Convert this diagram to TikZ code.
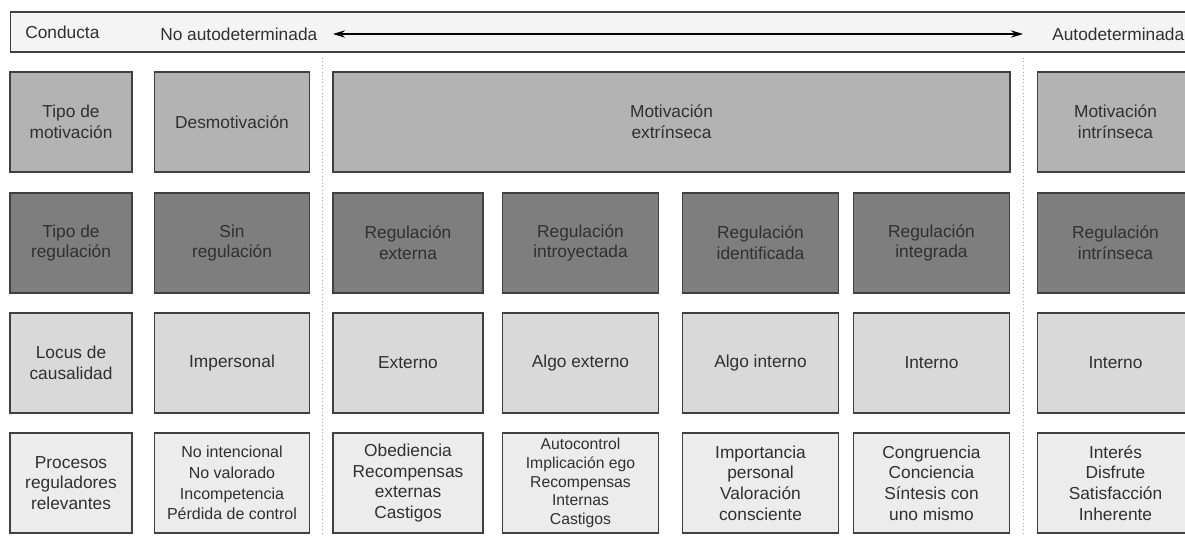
\documentclass[tikz,border=0pt]{standalone}
\usepackage{fontspec}
\setmainfont{Liberation Sans}
\usetikzlibrary{arrows.meta}
\definecolor{txt}{HTML}{303030}
\definecolor{edge}{HTML}{404040}
\definecolor{fa}{HTML}{B3B3B3}
\definecolor{fb}{HTML}{7E7E7E}
\definecolor{fc}{HTML}{D9D9D9}
\definecolor{fd}{HTML}{ECECEC}
\definecolor{fbar}{HTML}{F4F4F4}
\tikzset{
  cell/.style={draw=edge, line width=0.9pt, text=txt, align=center, minimum height=75pt,
    inner sep=1pt, font=\fontsize{13}{15.5}\selectfont},
  rowa/.style={cell, fill=fa},
  rowb/.style={cell, fill=fb},
  rowc/.style={cell, fill=fc},
  rowd/.style={cell, fill=fd},
  wfirst/.style={minimum width=91.5pt},
  wcol/.style={minimum width=116.5pt},
  wnarrow/.style={minimum width=112.5pt},
  lbl/.style={text=txt, inner sep=0pt, anchor=west, font=\fontsize{13}{15}\selectfont},
  sep/.style={draw=gray!70, line width=0.6pt, dotted},
  axis/.style={draw=black, line width=0.9pt, {Stealth[length=9pt,width=5.5pt]}-{Stealth[length=9pt,width=5.5pt]}}
}
\begin{document}
\begin{tikzpicture}[x=0.75pt, y=-0.75pt]
\useasboundingbox (0,0) rectangle (1185,536);
\clip (0,0) rectangle (1185,536);
% top bar
\node[draw=edge, line width=0.9pt, fill=fbar, minimum width=892pt, minimum height=30pt, anchor=west, inner sep=0pt] (bar) at (10,32) {};
\node[lbl] (conducta) at (25,32) {Conducta};
\node[lbl] (noauto) at (160,34) {No autodeterminada};
\node[lbl] (auto) at (1052,34) {Autodeterminada};
\coordinate (al) at (333,34);
\coordinate (ar) at (1023,34);
\draw[axis] (al) -- (ar);
% separators
\coordinate (s1t) at (322,58); \coordinate (s1b) at (322,536);
\coordinate (s2t) at (1023,58); \coordinate (s2b) at (1023,536);
\draw[sep] (s1t) -- (s1b);
\draw[sep] (s2t) -- (s2b);
% row 1
\node[rowa, wfirst] (a1) at (71,122) {Tipo de\\motivación};
\node[rowa, wcol] (a2) at (232,122) {Desmotivación};
\node[rowa, minimum width=507.75pt] (a3) at (671.5,122) {Motivación\\extrínseca};
\node[rowa, wcol] (a7) at (1115.5,122) {Motivación\\intrínseca};
% row 2
\node[rowb, wfirst] (b1) at (71,243) {Tipo de\\regulación};
\node[rowb, wcol] (b2) at (232,243) {Sin\\regulación};
\node[rowb, wnarrow] (b3) at (408,243) {Regulación\\externa};
\node[rowb, wcol] (b4) at (580.5,243) {Regulación\\introyectada};
\node[rowb, wcol] (b5) at (760.5,243) {Regulación\\identificada};
\node[rowb, wcol] (b6) at (931.5,243) {Regulación\\integrada};
\node[rowb, wcol] (b7) at (1115.5,243) {Regulación\\intrínseca};
% row 3
\node[rowc, wfirst] (c1) at (71,363) {Locus de\\causalidad};
\node[rowc, wcol] (c2) at (232,363) {Impersonal};
\node[rowc, wnarrow] (c3) at (408,363) {Externo};
\node[rowc, wcol] (c4) at (580.5,363) {Algo externo};
\node[rowc, wcol] (c5) at (760.5,363) {Algo interno};
\node[rowc, wcol] (c6) at (931.5,363) {Interno};
\node[rowc, wcol] (c7) at (1115.5,363) {Interno};
% row 4
\node[rowd, wfirst] (d1) at (71,483) {Procesos\\reguladores\\relevantes};
\node[rowd, wcol, font=\fontsize{12}{15.5}\selectfont] (d2) at (232,483) {No intencional\\No valorado\\Incompetencia\\Pérdida de control};
\node[rowd, wnarrow] (d3) at (408,483) {Obediencia\\Recompensas\\externas\\Castigos};
\node[rowd, wcol, font=\fontsize{11.8}{14}\selectfont] (d4) at (580.5,483) {Autocontrol\\Implicación ego\\Recompensas\\Internas\\Castigos};
\node[rowd, wcol] (d5) at (760.5,483) {Importancia\\personal\\Valoración\\consciente};
\node[rowd, wcol] (d6) at (931.5,483) {Congruencia\\Conciencia\\Síntesis con\\uno mismo};
\node[rowd, wcol] (d7) at (1115.5,483) {Interés\\Disfrute\\Satisfacción\\Inherente};
\end{tikzpicture}
\end{document}
